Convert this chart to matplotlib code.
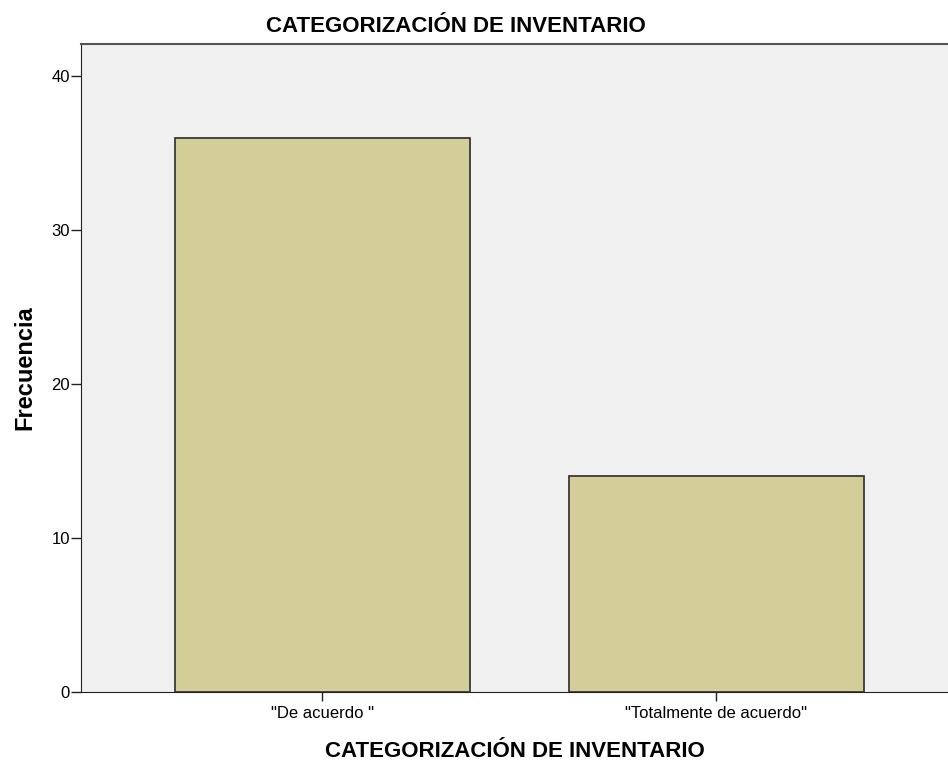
import matplotlib
matplotlib.use("Agg")
import matplotlib.pyplot as plt

categories = ['"De acuerdo "', '"Totalmente de acuerdo"']
frecuencia = [36, 14]
yticks = [0, 10, 20, 30, 40]

title = "CATEGORIZACIÓN DE INVENTARIO"
xlabel = "CATEGORIZACIÓN DE INVENTARIO"
ylabel = "Frecuencia"

fam = ['Liberation Sans', 'DejaVu Sans']

fig = plt.figure(figsize=(9.48, 7.62), dpi=100)
ax = fig.add_axes([81/948, 70/762, 1 - 81/948, (692-44)/762])
ax.set_facecolor('#F0F0F0')

x = list(range(len(categories)))
ax.bar(x, frecuencia, width=0.749, color='#D3CE97', edgecolor='#3A3A3A', linewidth=1.3, zorder=3)

ax.set_xlim(-0.613, 1.588)
ax.set_ylim(0, 42.08)
ax.set_yticks(yticks)
ax.set_yticklabels([str(t) for t in yticks], family=fam, fontsize=12)
ax.set_xticks(x)
ax.set_xticklabels(categories, family=fam, fontsize=12)

ax.tick_params(axis='y', direction='out', length=7.5, width=1, color='#222222', pad=0.5)
ax.tick_params(axis='x', direction='out', length=6.5, width=1, color='#222222', pad=3.5)

ax.spines['right'].set_visible(False)
ax.spines['left'].set_color('#222222')
ax.spines['bottom'].set_color('#222222')
ax.spines['top'].set_color('#555555')
ax.spines['top'].set_linewidth(1.5)

t = ax.set_title(title, family=fam, fontsize=16, fontweight='bold', pad=9)
t.set_x((456 - 81) / 867)
ax.set_xlabel(xlabel, family=fam, fontsize=16, fontweight='bold', labelpad=14.5)
ax.set_ylabel(ylabel, family=fam, fontsize=17, fontweight='bold', labelpad=10.5)

fig.savefig("out.png", dpi=100)
